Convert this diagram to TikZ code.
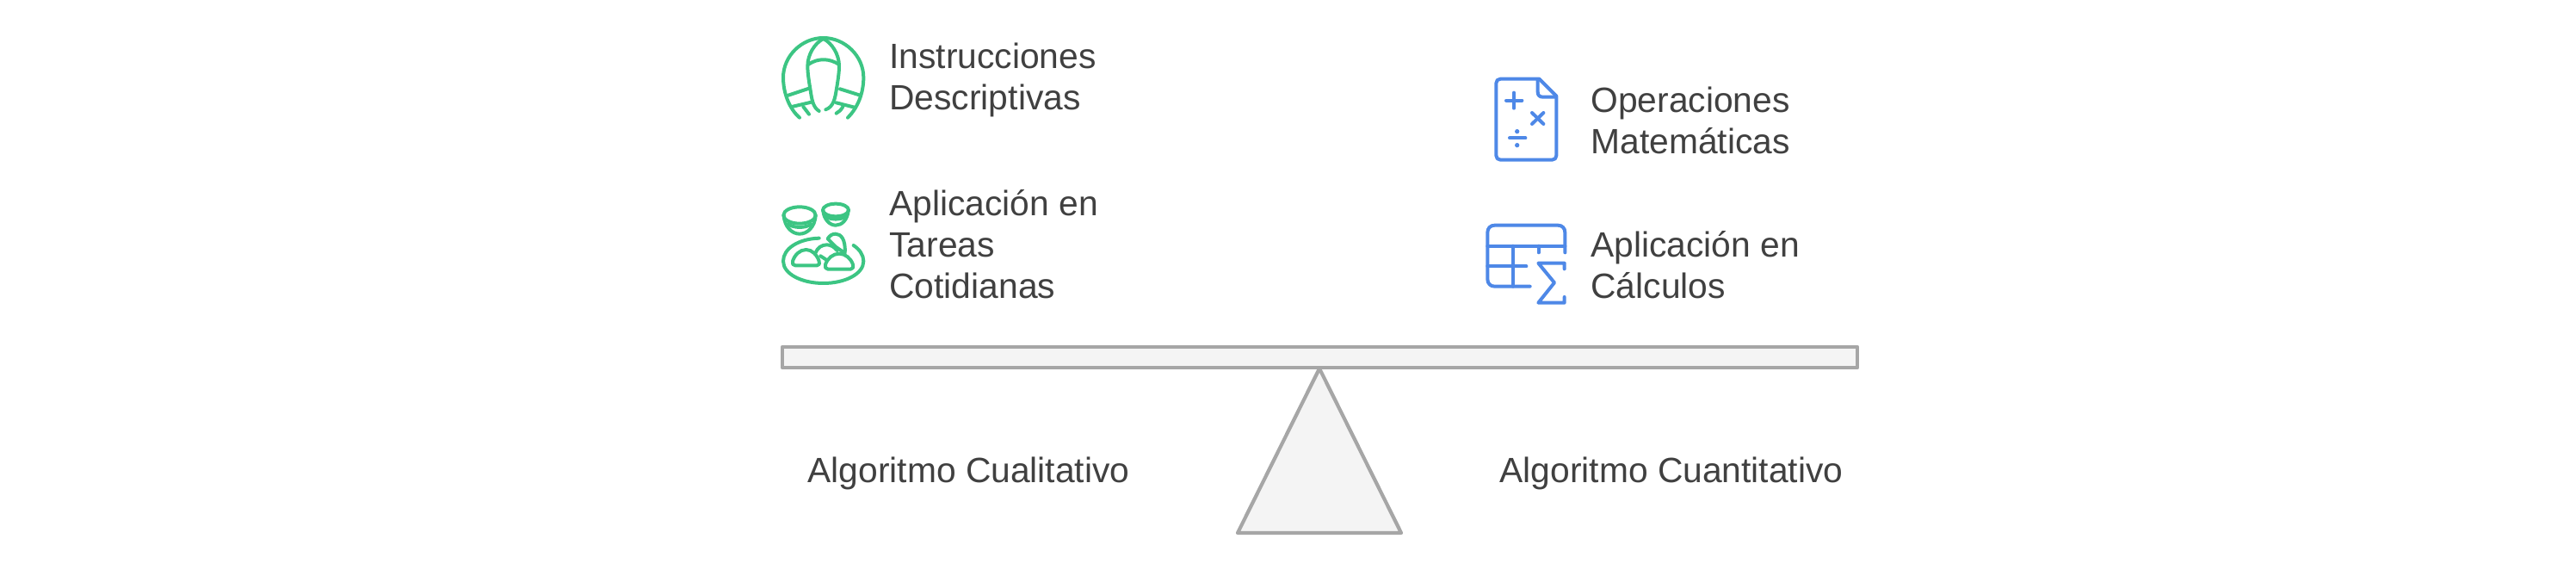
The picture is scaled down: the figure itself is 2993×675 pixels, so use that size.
\documentclass[tikz,border=0pt]{standalone}
\usepackage{fontspec}
\setmainfont{Liberation Sans}
\definecolor{grn}{HTML}{3CC583}
\definecolor{blu}{HTML}{4E88E7}
\definecolor{txt}{HTML}{404040}
\definecolor{edge}{HTML}{A6A6A6}
\definecolor{fillg}{HTML}{F4F4F4}
\tikzset{
 lbl/.style={anchor=west,inner sep=0pt,text=txt,align=left,font=\fontsize{20.4}{24}\selectfont},
 part/.style={draw=edge,fill=fillg,line width=2.1pt,line join=round},
 ico/.style={line width=2pt,line cap=round,line join=round},
}
\begin{document}
\begin{tikzpicture}[x=0.5pt,y=-0.5pt]
\useasboundingbox (0,0) rectangle (2993,675);
% balance
\draw[part] (909,403) rectangle (2158,427);
\draw[part] (1533,428) -- (1628,619) -- (1438,619) -- cycle;
% labels
\node[lbl] (a1) at (1033,92.5) {Instrucciones\\Descriptivas};
\node[lbl] (a2) at (1033,283.5) {Aplicación en\\Tareas\\Cotidianas};
\node[lbl] (b1) at (1848,139.5) {Operaciones\\Matemáticas};
\node[lbl] (b2) at (1848,307.5) {Aplicación en\\Cálculos};
\node[lbl] (c1) at (938,549.5) {Algoritmo Cualitativo};
\node[lbl] (c2) at (1742,549.5) {Algoritmo Cuantitativo};
% scarf icon
\begin{scope}[shift={(890,20)},x=0.5pt/3,y=-0.5pt/3,ico,draw=grn]
\draw (117,350) .. controls (82,320) and (60,265) .. (60,210) .. controls (60,135) and (125,72) .. (200,72) .. controls (275,72) and (340,135) .. (340,210) .. controls (340,265) and (320,315) .. (285,350);
\draw (185,327) .. controls (165,315) and (160,290) .. (155,255) .. controls (150,225) and (145,195) .. (145,170) .. controls (145,130) and (170,90) .. (200,75) .. controls (230,90) and (255,130) .. (255,170) .. controls (255,195) and (250,225) .. (245,255) .. controls (240,285) and (235,312) .. (208,322);
\draw (147,165) .. controls (180,142) and (220,142) .. (255,165);
\draw (78,272) -- (150,248);
\draw (90,312) -- (162,295);
\draw (130,312) -- (150,338);
\draw (258,250) -- (328,272);
\draw (245,298) -- (312,315);
\draw (268,312) .. controls (262,322) and (255,330) .. (245,335);
\end{scope}
% dishes icon
\begin{scope}[shift={(890,220)},x=0.5pt/3,y=-0.5pt/3,ico,draw=grn]
\draw (117,90) ellipse [x radius=56,y radius=29];
\draw (62,92) .. controls (65,130) and (90,155) .. (117,155) .. controls (145,155) and (170,130) .. (173,92);
\draw (78,122) .. controls (100,135) and (135,135) .. (157,122);
\draw (243,72) ellipse [x radius=45,y radius=22];
\draw (199,74) .. controls (202,105) and (222,125) .. (243,125) .. controls (265,125) and (284,105) .. (287,74);
\draw (212,97) .. controls (230,106) and (256,106) .. (274,97);
\draw (185,170) .. controls (115,172) and (60,205) .. (60,250) .. controls (60,295) and (125,327) .. (200,327) .. controls (275,327) and (340,295) .. (340,250) .. controls (340,228) and (325,208) .. (305,195);
\draw (102,265) -- (178,265) .. controls (186,265) and (188,258) .. (185,250) .. controls (178,228) and (160,210) .. (140,210) .. controls (118,210) and (100,228) .. (93,250) .. controls (90,258) and (94,265) .. (102,265) -- cycle;
\draw (216,278) -- (295,278) .. controls (303,278) and (306,270) .. (303,262) .. controls (296,240) and (276,224) .. (255,224) .. controls (234,224) and (214,240) .. (207,262) .. controls (204,270) and (208,278) .. (216,278) -- cycle;
\draw (172,222) .. controls (180,202) and (195,193) .. (212,193) .. controls (225,193) and (238,200) .. (248,213);
\draw (190,232) -- (210,245);
\draw (275,222) -- (243,200) -- (215,172) .. controls (222,160) and (232,155) .. (242,155) .. controls (262,155) and (278,175) .. (275,222);
\end{scope}
% calc sheet icon
\begin{scope}[shift={(1710,70)},x=0.5pt/3,y=-0.5pt/3,ico,draw=blu]
\draw (235,65) -- (100,65) .. controls (91,65) and (85,71) .. (85,80) -- (85,332) .. controls (85,341) and (91,347) .. (100,347) -- (280,347) .. controls (289,347) and (295,341) .. (295,332) -- (295,125) -- cycle;
\draw (230,67) -- (230,110) .. controls (230,122) and (236,128) .. (248,128) -- (293,128);
\draw (120,140) -- (175,140);
\draw (147,113) -- (147,167);
\draw (210,183) -- (250,222);
\draw (250,183) -- (210,222);
\draw (132,271) -- (187,271);
\fill[blu] (158,248) circle [radius=8];
\fill[blu] (158,296) circle [radius=8];
\end{scope}
% table sigma icon
\begin{scope}[shift={(1710,245)},x=0.5pt/3,y=-0.5pt/3,ico,draw=blu]
\draw (203,263) -- (80,263) .. controls (65,263) and (55,253) .. (55,238) -- (55,75) .. controls (55,60) and (65,50) .. (80,50) -- (300,50) .. controls (315,50) and (325,60) .. (325,75) -- (325,145);
\draw (55,122) -- (325,122);
\draw (143,122) -- (143,263);
\draw (55,193) -- (190,193);
\draw (233,122) -- (233,145);
\draw (323,202) -- (323,182) -- (232,182) -- (288,250) -- (232,320) -- (323,320) -- (323,300);
\end{scope}
\end{tikzpicture}
\end{document}
